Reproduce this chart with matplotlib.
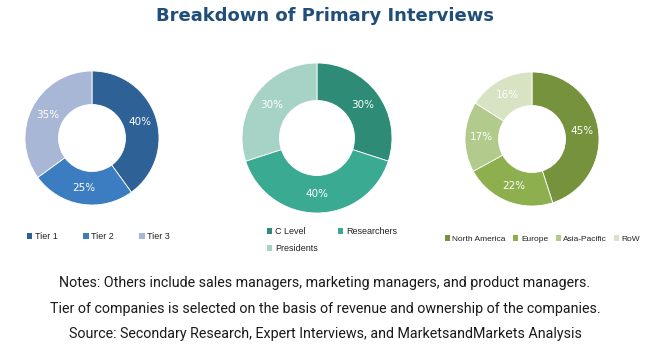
import matplotlib
matplotlib.use("Agg")
import matplotlib.pyplot as plt
from matplotlib.patches import Patch
from matplotlib import font_manager

W, H = 650, 351
DPI = 100

title = "Breakdown of Primary Interviews"

tier_labels = ["Tier 1", "Tier 2", "Tier 3"]
tier_values = [40, 25, 35]
tier_colors = ["#2E6196", "#3B7DC0", "#A8B7D6"]

desig_labels = ["C Level", "Researchers", "Presidents"]
desig_values = [30, 40, 30]
desig_colors = ["#2E8B76", "#3BAA92", "#A7D3C6"]

region_labels = ["North America", "Europe", "Asia-Pacific", "RoW"]
region_values = [45, 22, 17, 16]
region_colors = ["#76923C", "#8EAF4E", "#B2CB8C", "#D7E3C3"]

notes = [
    "Notes: Others include sales managers, marketing managers, and product managers.",
    "Tier of companies is selected on the basis of revenue and ownership of the companies.",
    "Source: Secondary Research, Expert Interviews, and MarketsandMarkets Analysis",
]

avail = {f.name for f in font_manager.fontManager.ttflist}
narrow = "Liberation Sans Narrow" if "Liberation Sans Narrow" in avail else "Roboto"

fig = plt.figure(figsize=(W / DPI, H / DPI), dpi=DPI)
fig.patch.set_facecolor("white")


def px_axes(cx, cy, r):
    return fig.add_axes([(cx - r) / W, 1 - (cy + r) / H, 2 * r / W, 2 * r / H])


def donut(cx, cy, r, values, colors):
    ax = px_axes(cx, cy, r)
    ax.pie(
        values, colors=colors, startangle=90, counterclock=False, radius=1,
        wedgeprops=dict(width=0.5, edgecolor="white", linewidth=0.6),
        labels=[f"{v}%" for v in values], labeldistance=0.75,
        textprops=dict(color="white", fontsize=7.5, ha="center", va="center",
                       family="DejaVu Sans"),
    )
    ax.set_xlim(-1, 1)
    ax.set_ylim(-1, 1)
    ax.set_aspect("equal")
    ax.axis("off")
    return ax


donut(92, 138, 67, tier_values, tier_colors)
donut(317, 138, 75, desig_values, desig_colors)
donut(532, 139, 67, region_values, region_colors)


def legend(labels, colors, x, y, ncol, colsp, size=6.5, lsp=0.6, order=None):
    handles = [Patch(facecolor=c, edgecolor="none") for c in colors]
    labs = list(labels)
    if order is not None:
        handles = [handles[i] for i in order]
        labs = [labs[i] for i in order]
    fig.legend(handles, labs, loc="upper left", bbox_to_anchor=(x / W, 1 - y / H),
               ncol=ncol, frameon=False, handlelength=0.6,
               handleheight=0.6, handletextpad=0.3, columnspacing=colsp,
               borderaxespad=0, borderpad=0, labelspacing=lsp,
               prop=dict(family="Liberation Sans", size=size),
               labelcolor="#222222")


legend(tier_labels, tier_colors, 27, 232, 3, 2.8)
legend(desig_labels, desig_colors, 267, 227, 2, 2.2, lsp=0.9, order=[0, 2, 1])
legend(region_labels, region_colors, 445, 235.5, 4, 0.9, size=6)

fig.text(0.5, 1 - 16 / H, title, ha="center", va="center", color="#1F4E79",
         fontsize=13, fontweight="bold", family="DejaVu Sans")

for i, line in enumerate(notes):
    fig.text(0.5, 1 - (283 + 25.5 * i) / H, line, ha="center", va="center",
             color="#1a1a1a", fontsize=10.3, family=narrow)

fig.savefig("out.png", dpi=DPI, facecolor="white")
